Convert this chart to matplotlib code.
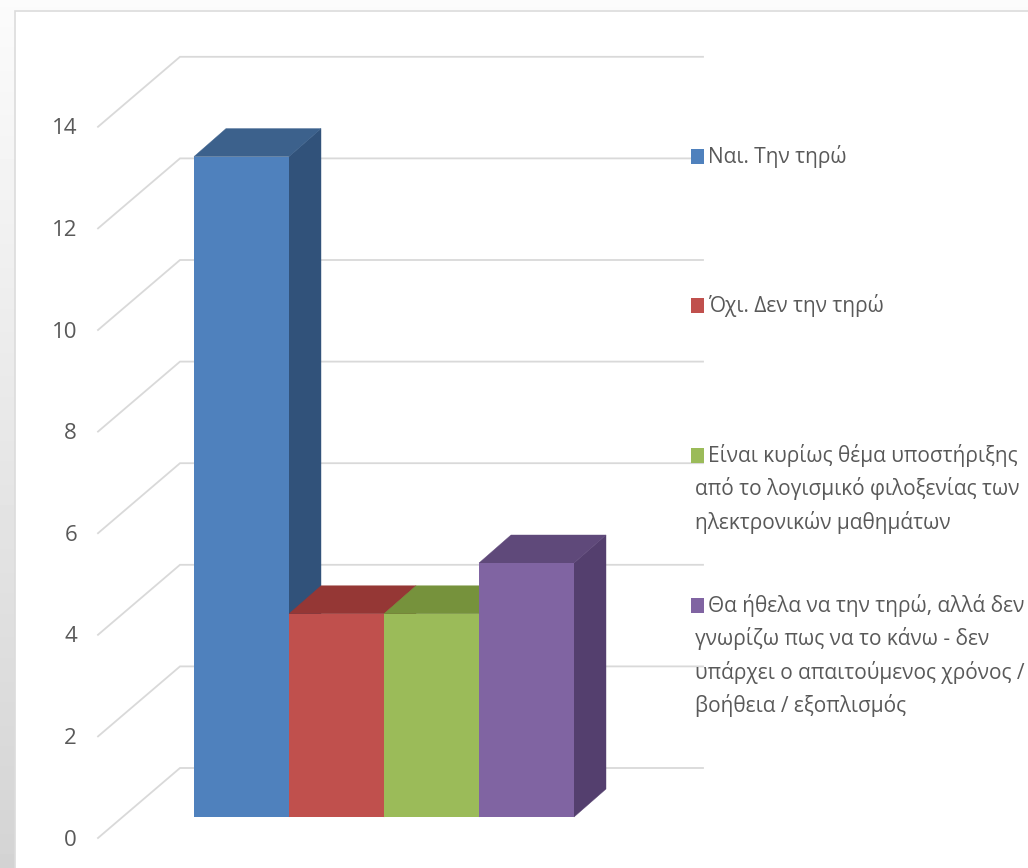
#!/usr/bin/env python

import numpy as np
import matplotlib.pyplot as plt
from matplotlib.patches import Polygon, Rectangle

plt.rcParams['font.family'] = ['Open Sans', 'DejaVu Sans']

values = [13, 4, 4, 5]
ticks = [0, 2, 4, 6, 8, 10, 12, 14]
legend_lines = [
    ['Ναι. Την τηρώ'],
    ['Όχι. Δεν την τηρώ'],
    ['Είναι κυρίως θέμα υποστήριξης',
     'από το λογισμικό φιλοξενίας των',
     'ηλεκτρονικών μαθημάτων'],
    ['Θα ήθελα να την τηρώ, αλλά δεν',
     'γνωρίζω πως να το κάνω - δεν',
     'υπάρχει ο απαιτούμενος χρόνος /',
     'βοήθεια / εξοπλισμός'],
]
front_cols = ['#4f81bd', '#c0504d', '#9bbb59', '#8064a2']
top_cols = ['#3c618c', '#953735', '#76923c', '#5f497a']
side_cols = ['#31527a', '#7d3331', '#64803a', '#543f6e']
legend_tops = [149, 298, 448, 598]
legend_bases = [163, 312, 462, 612]

W, H = 1028, 868
BAR_PX = 95.0
UNIT_PX = 50.8
X0_PX = 194.0
Y0_PX = 817.0

GRID = '#d9d9d9'
TEXT = '#595959'


def px(x):
    return (x - X0_PX) / BAR_PX


def py(y):
    return (Y0_PX - y) / UNIT_PX


def dx(d):
    return d / BAR_PX


def dy(d):
    return d / UNIT_PX


fig = plt.figure(figsize=(W / 100, H / 100), dpi=100)

# grey slide background behind the chart frame
bg = fig.add_axes([0, 0, 1, 1], zorder=0)
bg.axis('off')
grad = np.linspace(0.985, 0.83, 256).reshape(-1, 1)
bg.imshow(grad, aspect='auto', cmap='gray', vmin=0, vmax=1, extent=[0, W, H, 0])
bg.set_xlim(0, W)
bg.set_ylim(H, 0)
bg.add_patch(Rectangle((15, 11), W, H, fc='white', ec='#dcdcdc', lw=1.2))

ax = fig.add_axes([0, 0, 1, 1], zorder=1)
ax.patch.set_alpha(0)
ax.axis('off')
ax.set_xlim(px(0), px(W))
ax.set_ylim(py(H), py(0))

# walls, shifted from the bar plane
back_x, back_y = dx(180 - X0_PX), dy(Y0_PX - 768)
front_x, front_y = dx(98 - X0_PX), dy(Y0_PX - 838)
end_x = px(703)
for t in ticks:
    ax.plot([front_x, back_x, end_x], [t + front_y, t + back_y, t + back_y],
            color=GRID, lw=1.3, solid_joinstyle='miter', zorder=1)
    ax.text(px(77), t + front_y - dy(2), str(t), ha='right', va='center',
            color=TEXT, fontsize=16, zorder=3)

# the bars, as oblique boxes
ddx, ddy = dx(32), dy(28)
for i, v in enumerate(values):
    ax.add_patch(Polygon([(i + 1, 0), (i + 1 + ddx, ddy), (i + 1 + ddx, v + ddy), (i + 1, v)],
                         fc=side_cols[i], ec=side_cols[i], lw=0.3, zorder=2 + i * 0.1))
    ax.add_patch(Polygon([(i, v), (i + ddx, v + ddy), (i + 1 + ddx, v + ddy), (i + 1, v)],
                         fc=top_cols[i], ec=top_cols[i], lw=0.3, zorder=2 + i * 0.1))
    ax.add_patch(Rectangle((i, 0), 1, v, fc=front_cols[i], ec='none', zorder=2.05 + i * 0.1))

# legend
for lines, top, base, col in zip(legend_lines, legend_tops, legend_bases, front_cols):
    ax.add_patch(Rectangle((px(691), py(top + 15)), dx(13), dy(15), fc=col, ec='none', zorder=4))
    for n, line in enumerate(lines):
        x = 708 if n == 0 else 695
        ax.text(px(x), py(base + n * 33.3), line, ha='left', va='baseline',
                color=TEXT, fontsize=15, zorder=4)

fig.savefig('out.png', dpi=100)
